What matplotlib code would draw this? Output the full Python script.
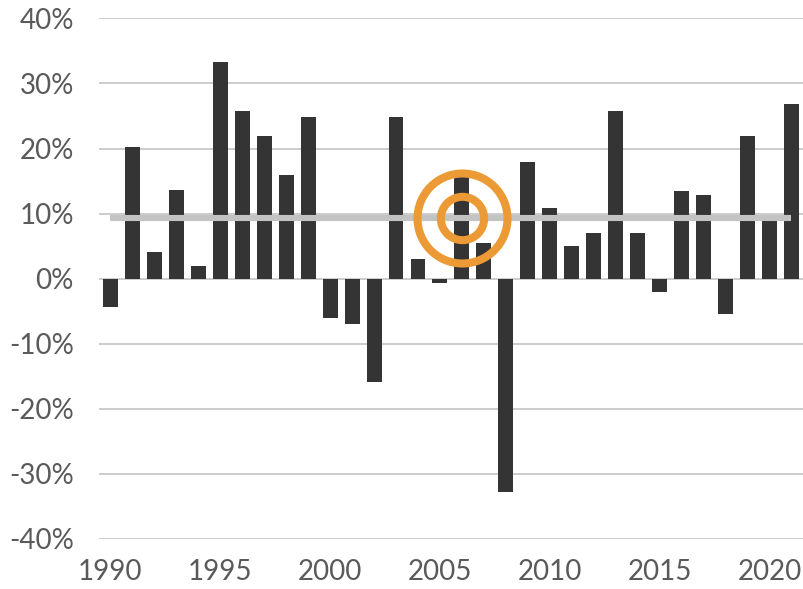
import numpy as np
import matplotlib.pyplot as plt

years = list(range(1990, 2022))
returns = [-4.4, 20.2, 4.1, 13.6, 1.9, 33.3, 25.8, 21.9, 15.9, 24.8,
           -6.1, -7.0, -15.9, 24.8, 3.0, -0.7, 15.8, 5.5, -32.8, 17.9,
           10.8, 5.0, 7.0, 25.8, 7.0, -2.1, 13.5, 12.8, -5.5, 21.9,
           8.8, 26.8]
average = 9.35          # long-run average line
target_year = 2006      # year marked with the bullseye
y_ticks = [-40, -30, -20, -10, 0, 10, 20, 30, 40]
x_ticks = [1990, 1995, 2000, 2005, 2010, 2015, 2020]

plt.rcParams['font.family'] = ['Lato', 'DejaVu Sans']

fig = plt.figure(figsize=(8.04, 5.89), dpi=100)
ax = fig.add_axes([0.1231, 0.0857, 0.8769, 0.8829])

ax.bar(years, returns, width=0.68, color="#343434", zorder=2)
ax.plot([years[0], years[-1]], [average, average], color="#C3C3C3", lw=4.4,
        solid_capstyle="butt", zorder=3)

# bullseye: two orange rings
ax.plot(target_year, average, marker="o", ms=64.8, mfc="none", mec="#EB9A35", mew=5.8, zorder=4)
ax.plot(target_year, average, marker="o", ms=31.2, mfc="none", mec="#EB9A35", mew=5.8, zorder=4)

ax.set_xlim(1989.48, 2021.57)
ax.set_ylim(-40, 40)
ax.set_yticks(y_ticks)
ax.set_yticklabels([f"{t}%" for t in y_ticks])
ax.set_xticks(x_ticks)
ax.grid(axis="y", color="#BFBFBF", lw=1.1, zorder=0)
ax.set_axisbelow(True)
for s in ax.spines.values():
    s.set_visible(False)
ax.tick_params(axis="both", length=0, labelsize=20, labelcolor="#5A5A5A")
ax.tick_params(axis="y", pad=18)
ax.tick_params(axis="x", pad=15)

fig.savefig("out.png", dpi=100)
